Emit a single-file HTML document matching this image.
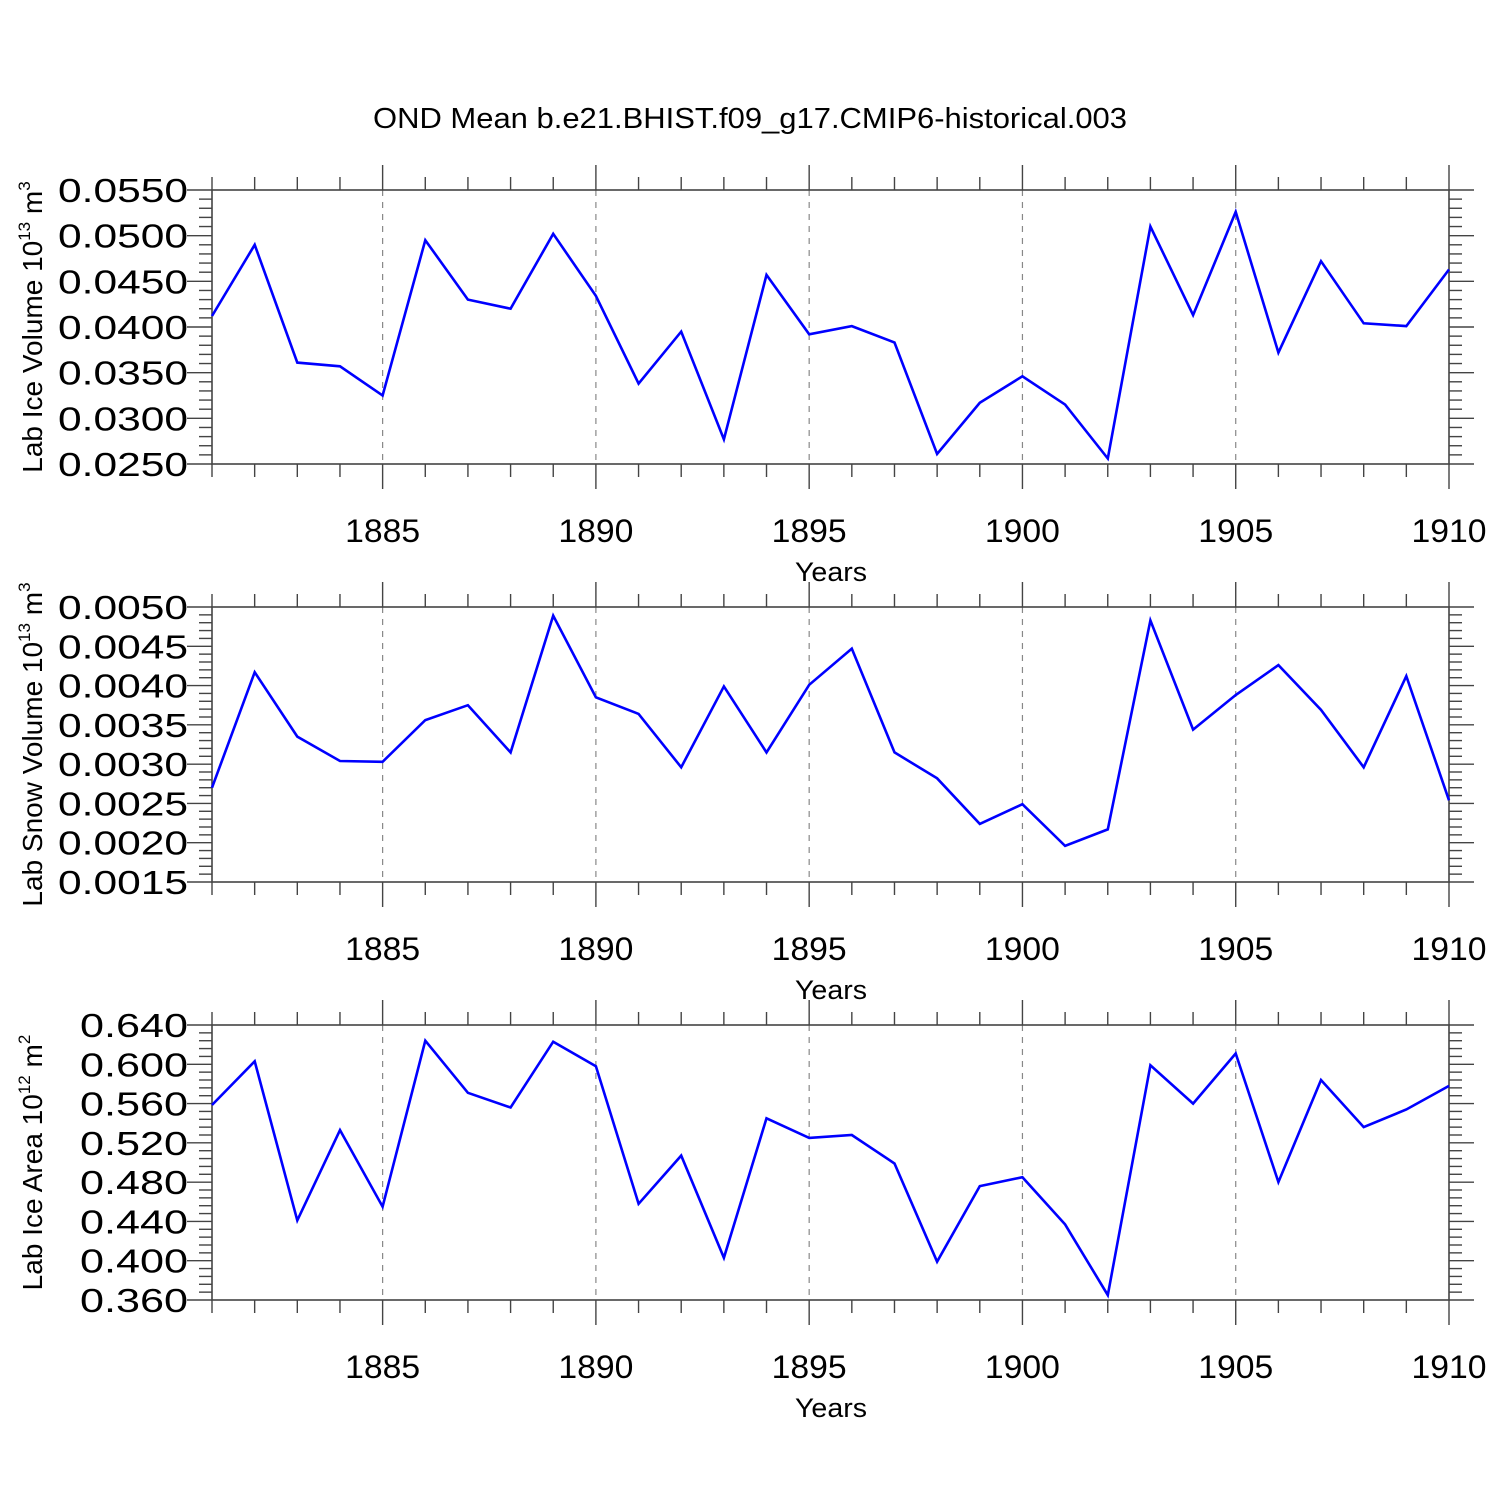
<!DOCTYPE html>
<html><head><meta charset="utf-8"><style>
html,body{margin:0;padding:0;background:#fff}
svg{display:block}
text{font-family:"Liberation Sans",Arial,sans-serif;fill:#000}
</style></head><body>
<svg id="chart" width="1500" height="1500" viewBox="0 0 1500 1500" xmlns="http://www.w3.org/2000/svg">
<text x="750" y="128" font-size="29" text-anchor="middle" textLength="754" lengthAdjust="spacingAndGlyphs">OND Mean b.e21.BHIST.f09_g17.CMIP6-historical.003</text>
</svg>
<script>
const years = [1881,1882,1883,1884,1885,1886,1887,1888,1889,1890,1891,1892,1893,1894,1895,1896,1897,1898,1899,1900,1901,1902,1903,1904,1905,1906,1907,1908,1909,1910];
const iceVolume = [0.0412,0.0490,0.0361,0.0357,0.0325,0.0495,0.0430,0.0420,0.0502,0.0434,0.0338,0.0395,0.0277,0.0457,0.0392,0.0401,0.0383,0.0261,0.0317,0.0346,0.0315,0.0256,0.0510,0.0413,0.0526,0.0372,0.0472,0.0404,0.0401,0.0463];
const snowVolume = [0.00270,0.00417,0.00335,0.00304,0.00303,0.00356,0.00375,0.00315,0.00489,0.00385,0.00364,0.00296,0.00399,0.00315,0.00401,0.00447,0.00315,0.00282,0.00224,0.00249,0.00196,0.00217,0.00483,0.00344,0.00388,0.00426,0.00369,0.00296,0.00412,0.00254];
const iceArea = [0.5585,0.603,0.441,0.533,0.455,0.624,0.571,0.556,0.623,0.598,0.458,0.507,0.403,0.545,0.525,0.528,0.499,0.399,0.476,0.485,0.437,0.365,0.599,0.560,0.611,0.480,0.584,0.536,0.554,0.578];
const xTickLabels = [1885,1890,1895,1900,1905,1910];
const iceVolTicks = ["0.0250","0.0300","0.0350","0.0400","0.0450","0.0500","0.0550"];
const snowVolTicks = ["0.0015","0.0020","0.0025","0.0030","0.0035","0.0040","0.0045","0.0050"];
const iceAreaTicks = ["0.360","0.400","0.440","0.480","0.520","0.560","0.600","0.640"];

const NS="http://www.w3.org/2000/svg";
const svg=document.getElementById('chart');
function mk(tag,attrs,parent){const e=document.createElementNS(NS,tag);for(const k in attrs)e.setAttribute(k,attrs[k]);(parent||svg).appendChild(e);return e;}
const X0=212,X1=1449,xMin=1881,xMax=1910;
function xs(v){return X0+(v-xMin)*(X1-X0)/(xMax-xMin);}

function panel(top,bottom,ticks,values,name,titleParts){
  const g=mk('g',{});
  
  
  const yMin=parseFloat(ticks[0]),yMax=parseFloat(ticks[ticks.length-1]);
  const ys=v=>bottom-(v-yMin)*(bottom-top)/(yMax-yMin);
  for(const t of xTickLabels){ if(t>=xMax) continue;
    const l=mk('line',{x1:xs(t),x2:xs(t),y1:top,y2:bottom,stroke:'#888','stroke-width':1.2,'stroke-dasharray':'6,6'},g);
    
    
  }
  for(let yr=xMin;yr<=xMax;yr++){
    const major=(yr%5===0);
    const len=major?25:13;
    mk('line',{x1:xs(yr),x2:xs(yr),y1:top,y2:top-len,stroke:'#444','stroke-width':1.4},g);
    mk('line',{x1:xs(yr),x2:xs(yr),y1:bottom,y2:bottom+len,stroke:'#444','stroke-width':1.4},g);
  }
  const nMaj=ticks.length-1;
  for(let i=0;i<=nMaj*5;i++){
    const v=yMin+(yMax-yMin)*i/(nMaj*5);
    const y=ys(v);const major=(i%5===0);const len=major?25:13;
    mk('line',{x1:X0,x2:X0-len,y1:y,y2:y,stroke:'#444','stroke-width':1.4},g);
    mk('line',{x1:X1,x2:X1+len,y1:y,y2:y,stroke:'#444','stroke-width':1.4},g);
  }
  for(const t of ticks){
    const w=t.length===6?130:108;
    const tx=mk('text',{x:188,y:ys(parseFloat(t))+12,'font-size':33,'text-anchor':'end',textLength:w,lengthAdjust:'spacingAndGlyphs'},g);
    tx.textContent=t;
    
    
  }
  for(const t of xTickLabels){
    const tx=mk('text',{x:xs(t),y:bottom+78,'font-size':32,'text-anchor':'middle',textLength:75,lengthAdjust:'spacingAndGlyphs'},g);
    tx.textContent=t;
    
    
  }
  const xt=mk('text',{x:831,y:bottom+117,'font-size':27,'text-anchor':'middle',textLength:72,lengthAdjust:'spacingAndGlyphs'},g);
  xt.textContent='Years';
  
  
  const yt=mk('text',{transform:`translate(42,${(top+bottom)/2}) rotate(-90)`,'font-size':28,'text-anchor':'middle'},g);
  
  
  const a=document.createElementNS(NS,'tspan');a.textContent=titleParts[0];yt.appendChild(a);
  const b=document.createElementNS(NS,'tspan');b.setAttribute('dy','-12');b.setAttribute('font-size','17');b.textContent=titleParts[1];yt.appendChild(b);
  const c=document.createElementNS(NS,'tspan');c.setAttribute('dy','12');c.textContent=' m';yt.appendChild(c);
  const d=document.createElementNS(NS,'tspan');d.setAttribute('dy','-12');d.setAttribute('font-size','17');d.textContent=titleParts[2];yt.appendChild(d);
  const fr=mk('rect',{x:X0,y:top,width:X1-X0,height:bottom-top,fill:'none',stroke:'#444','stroke-width':1.6},g);
  
  
  const pts=values.map((v,i)=>xs(years[i]).toFixed(1)+','+ys(v).toFixed(1)).join(' ');
  const pl=mk('polyline',{points:pts,fill:'none',stroke:'#0000ff','stroke-width':2.6,'stroke-linejoin':'miter'},g);
  
  
}
panel(190,464,iceVolTicks,iceVolume,'ice-volume',['Lab Ice Volume 10','13','3']);
panel(607,882,snowVolTicks,snowVolume,'snow-volume',['Lab Snow Volume 10','13','3']);
panel(1025,1300,iceAreaTicks,iceArea,'ice-area',['Lab Ice Area 10','12','2']);
</script>
</body></html>
